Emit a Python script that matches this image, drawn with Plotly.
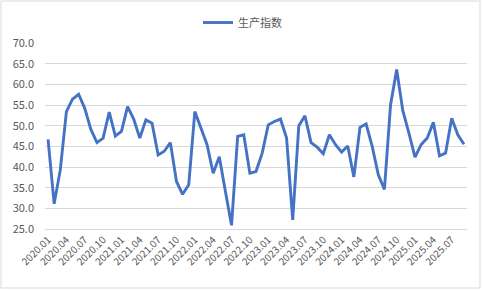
import plotly.graph_objects as go

months = [f"{y}.{m:02d}" for y in range(2020, 2026) for m in range(1, 13)][:69]
values = [46.7, 31.1, 39.3, 53.4, 56.4, 57.6, 54.2, 49.1, 45.9, 47.0,
          53.3, 47.5, 48.6, 54.6, 51.6, 47.0, 51.4, 50.6, 42.9, 43.8,
          45.9, 36.5, 33.4, 35.7, 53.4, 49.4, 45.4, 38.5, 42.5, 34.1,
          25.9, 47.4, 47.8, 38.5, 38.9, 43.3, 50.2, 51.0, 51.6, 47.0,
          27.2, 50.0, 52.4, 45.9, 44.8, 43.2, 47.8, 45.4, 43.6, 45.1,
          37.6, 49.6, 50.4, 45.0, 38.1, 34.6, 55.0, 63.6, 53.7, 48.2,
          42.4, 45.4, 47.0, 50.8, 42.7, 43.4, 51.8, 47.8, 45.5]
tick_labels = months[::3]
series_name = "生产指数"

fig = go.Figure()
fig.add_trace(go.Scatter(x=months, y=values, mode="lines", name=series_name,
                         line=dict(color="#4472C4", width=2.9)))

font_family = "Noto Sans CJK SC, Open Sans, sans-serif"
fig.update_layout(
    width=482, height=290,
    margin=dict(l=45, r=15, t=43, b=61, autoexpand=False),
    paper_bgcolor="white", plot_bgcolor="white",
    font=dict(family=font_family, color="#595959", size=10),
    showlegend=True,
    legend=dict(orientation="h", xref="container", yref="container",
                x=198 / 482, xanchor="left", y=1 - 8 / 290, yanchor="top",
                font=dict(size=11, color="#595959"),
                bgcolor="rgba(0,0,0,0)"),
    xaxis=dict(type="category", tickmode="array", tickvals=tick_labels,
               ticktext=tick_labels, tickangle=-45, showgrid=False,
               range=[-0.5, 68.5], automargin=False,
               showline=True, linecolor="#D9D9D9", linewidth=1,
               ticks="", tickfont=dict(size=10, color="#595959")),
    yaxis=dict(range=[25, 70], dtick=5, tickformat=".1f", showgrid=True,
               gridcolor="#D9D9D9", gridwidth=1, zeroline=False, automargin=False,
               ticklabelstandoff=10,
               showline=False, ticks="", tickfont=dict(size=11, color="#595959")),
)
fig.add_shape(type="rect", xref="paper", yref="paper", x0=-44 / 422, x1=1 + 13 / 422,
              y0=-59 / 186, y1=1 + 42 / 186, line=dict(width=1, color="#D9D9D9"))
fig.write_html("out.html")
